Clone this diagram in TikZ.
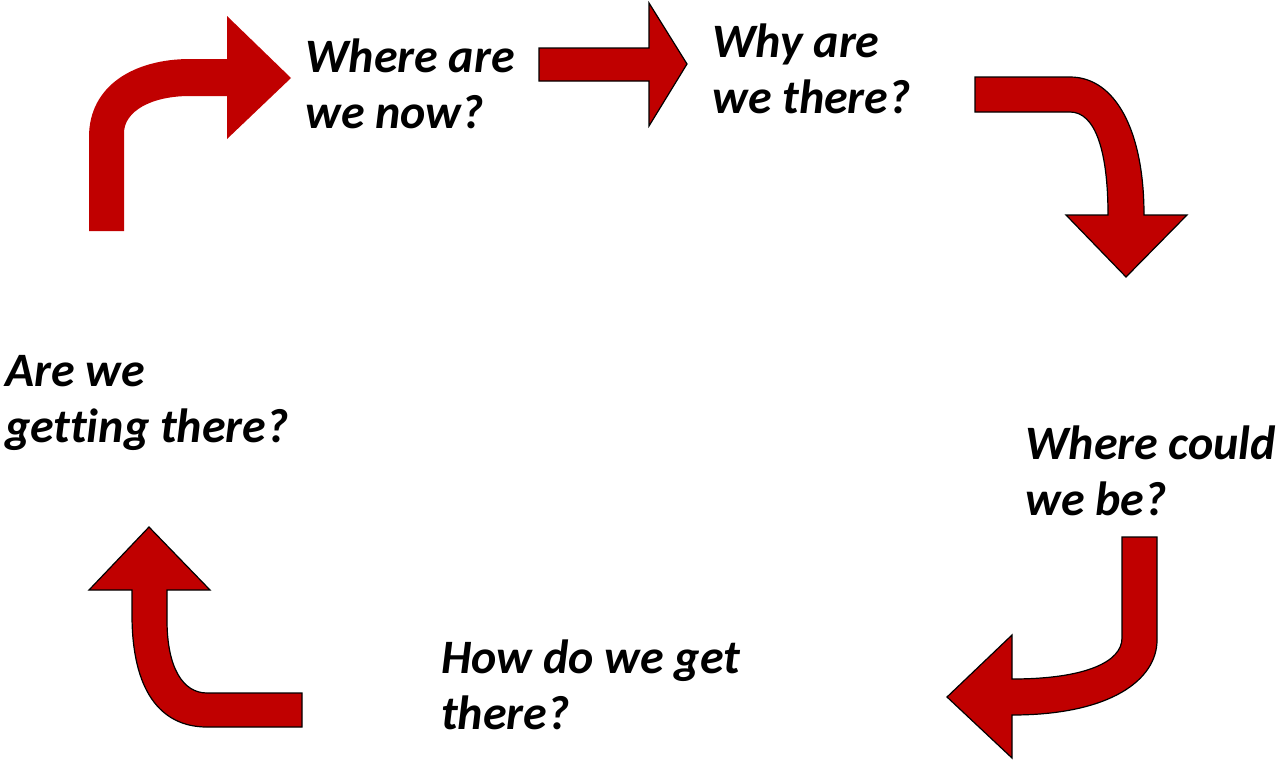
\documentclass[tikz,border=0pt]{standalone}
\usepackage{fontspec}
\setmainfont{Carlito}[Ligatures=NoCommon]
\usepackage{tikz}
\usetikzlibrary{positioning}

\definecolor{arrowred}{HTML}{C00000}

\begin{document}
\begin{tikzpicture}[x=0.75pt, y=-0.75pt]
        % Styles
        \tikzset{
          question/.style={
            font=\fontsize{36}{41.3}\selectfont\bfseries\itshape,
            align=left,
            inner sep=0pt,
            anchor=base west
          },
          blockarrow/.style={
            fill=arrowred,
            draw=black,
            line width=0.9pt,
            line join=miter
          }
        }

        \useasboundingbox (0,0) rectangle (1276,760);

        % the five questions (anchored at the last line)
        \node[question] (now)   at (305,128)  {Where are\\we now?};
        \node[question] (why)   at (712,113)  {Why are\\we there?};
        \node[question] (could) at (1025,515) {Where could\\we be?};
        \node[question] (how)   at (441,729)  {How do we get\\there?};
        \node[question] (are)   at (5,442)    {Are we\\getting there?};

        % bent arrow into "where are we now" (no outline)
        \fill[arrowred]
          (89,231) -- (89,137) .. controls (89,85) and (135,59) .. (190,59)
          -- (227,59) -- (227,16) -- (291,78) -- (227,139) -- (227,96)
          -- (190,96) .. controls (150,96) and (124,112) .. (124,133)
          -- (124,231) -- cycle;

        % straight arrow
        \draw[blockarrow]
          (539,48) -- (649,48) -- (649,3) -- (687,64) -- (649,126)
          -- (649,81) -- (539,81) -- cycle;

        % arrow bending down on the right
        \draw[blockarrow]
          (975,77) -- (1070,77) .. controls (1115,77) and (1144,130) .. (1144,215)
          -- (1187,215) -- (1126,277) -- (1066,215) -- (1108,215)
          .. controls (1108,150) and (1095,112) .. (1070,112)
          -- (975,112) -- cycle;

        % arrow bending left at the bottom right
        \draw[blockarrow]
          (1122,537) -- (1157,537) -- (1157,640)
          .. controls (1157,680) and (1110,715) .. (1012,715)
          -- (1012,758) -- (947,697) -- (1012,635) -- (1012,679)
          .. controls (1085,679) and (1122,662) .. (1122,638) -- cycle;

        % arrow bending up at the bottom left
        \draw[blockarrow]
          (302,727) -- (207,727) .. controls (160,727) and (132,690) .. (132,615)
          -- (132,590) -- (89,590) -- (149,527) -- (210,590) -- (167,590)
          -- (167,620) .. controls (167,668) and (183,693) .. (207,693)
          -- (302,693) -- cycle;
\end{tikzpicture}
\end{document}
